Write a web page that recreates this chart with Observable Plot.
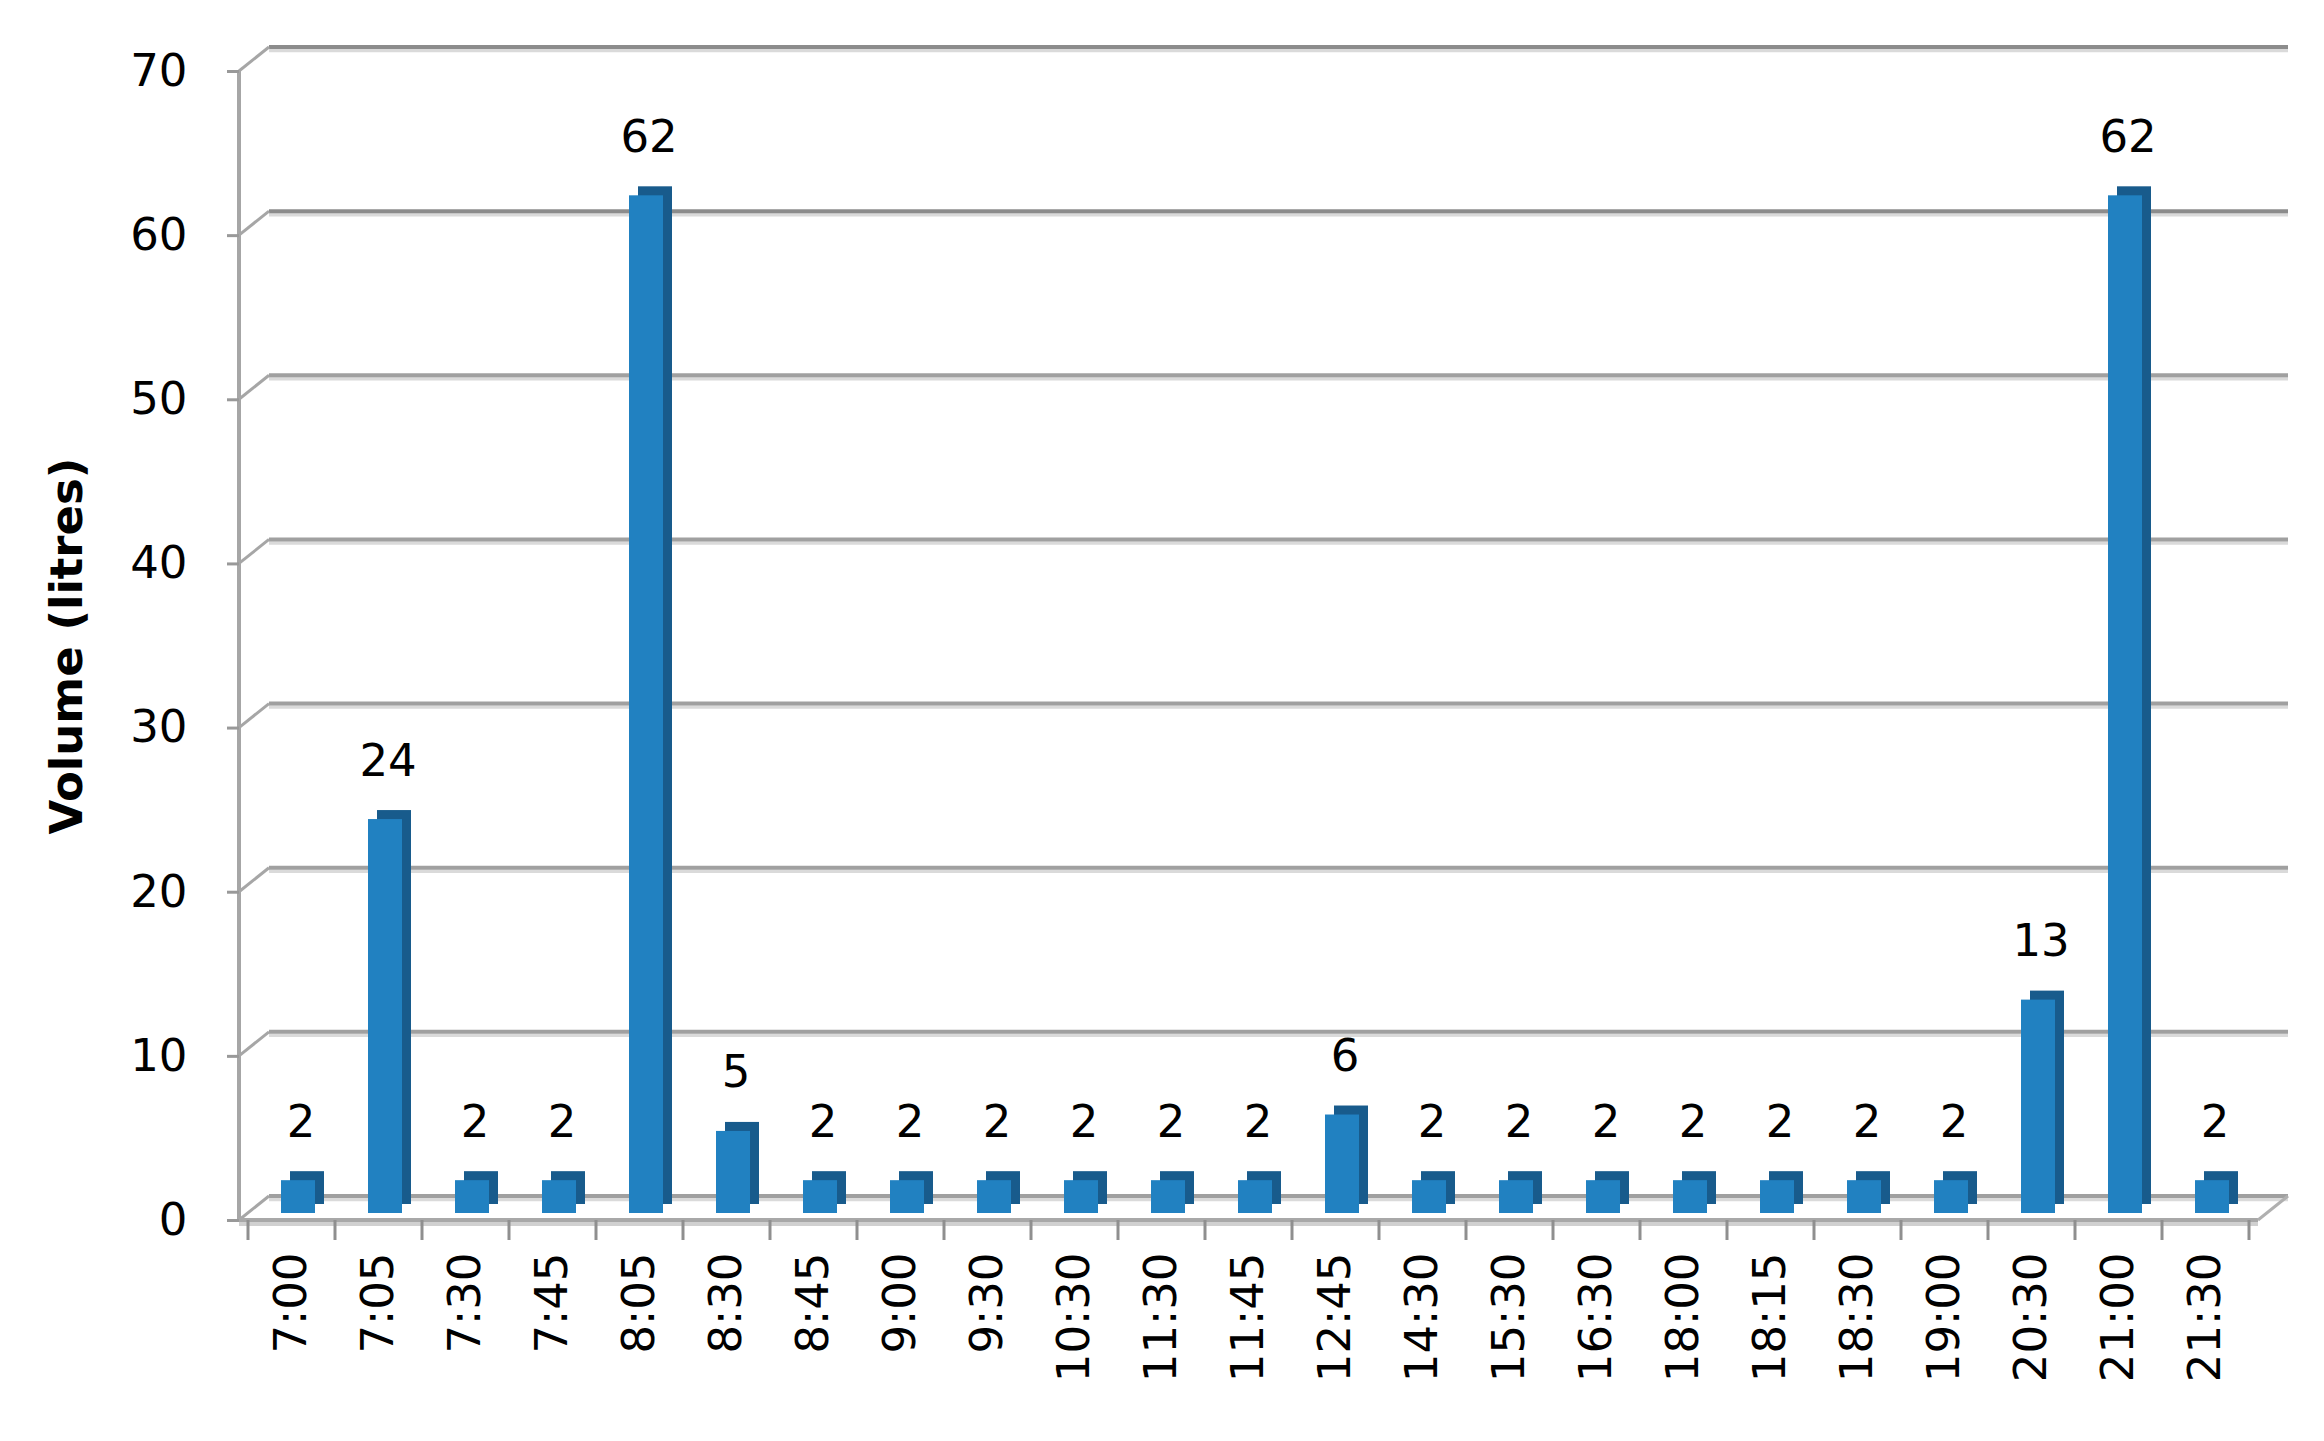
<!DOCTYPE html>
<html>
<head>
<meta charset="utf-8">
<script src="https://cdn.jsdelivr.net/npm/d3@7"></script>
<script src="https://cdn.jsdelivr.net/npm/@observablehq/plot@0.6"></script>
<style>
  html, body { margin: 0; padding: 0; background: #ffffff; overflow: hidden; }
  #chart svg { display: block; }
</style>
</head>
<body>
<div id="chart"></div>
<script>
const times = ["7:00","7:05","7:30","7:45","8:05","8:30","8:45","9:00","9:30","10:30","11:30","11:45","12:45","14:30","15:30","16:30","18:00","18:15","18:30","19:00","20:30","21:00","21:30"];
const volumes = [2,24,2,2,62,5,2,2,2,2,2,2,6,2,2,2,2,2,2,2,13,62,2];
const yTicks = [0,10,20,30,40,50,60,70];
const yTitle = "Volume (litres)";

const data = times.map((t, i) => ({time: t, value: volumes[i]}));

const DEPTH_X = 30, DEPTH_Y = -24;

// 3D wall / floor decorations drawn from the plot's own scales
function decor(index, scales, values, dims) {
  const x = scales.x, y = scales.y;
  const g = d3.create("svg:g");
  const x0 = dims.marginLeft, x1 = dims.width - dims.marginRight;
  const n = times.length;
  const step = (typeof x.step === "function") ? x.step() : (x1 - x0) / n;
  const start = x(times[0]);
  for (const v of yTicks) {
    const yy = y(v);
    const dark = v === 70 || v === 60 ? "#8c8c8c" : "#a0a0a0";
    g.append("line").attr("x1", x0 + DEPTH_X).attr("x2", x1 + DEPTH_X)
      .attr("y1", yy + DEPTH_Y + 3.5).attr("y2", yy + DEPTH_Y + 3.5)
      .attr("stroke", "#dadada").attr("stroke-width", 3.5);
    g.append("line").attr("x1", x0 + DEPTH_X).attr("x2", x1 + DEPTH_X)
      .attr("y1", yy + DEPTH_Y).attr("y2", yy + DEPTH_Y)
      .attr("stroke", dark).attr("stroke-width", 4);
    g.append("line").attr("x1", x0).attr("x2", x0 + DEPTH_X)
      .attr("y1", yy).attr("y2", yy + DEPTH_Y)
      .attr("stroke", "#a6a6a6").attr("stroke-width", 3);
  }
  g.append("line").attr("x1", x0).attr("x2", x0)
    .attr("y1", y(70)).attr("y2", y(0))
    .attr("stroke", "#a6a6a6").attr("stroke-width", 4);
  const y0 = y(0);
  g.append("line").attr("x1", x0).attr("x2", x1)
    .attr("y1", y0 + 4).attr("y2", y0 + 4)
    .attr("stroke", "#d0d0d0").attr("stroke-width", 4);
  g.append("line").attr("x1", x0).attr("x2", x1)
    .attr("y1", y0).attr("y2", y0)
    .attr("stroke", "#a8a8a8").attr("stroke-width", 4);
  g.append("line").attr("x1", x1).attr("x2", x1 + DEPTH_X)
    .attr("y1", y0).attr("y2", y0 + DEPTH_Y)
    .attr("stroke", "#b0b0b0").attr("stroke-width", 3);
  for (let i = 0; i <= n; i++) {
    const xx = start + i * step;
    g.append("line").attr("x1", xx).attr("x2", xx)
      .attr("y1", y0).attr("y2", y0 + 20)
      .attr("stroke", "#8f8f8f").attr("stroke-width", 3);
  }
  return g.node();
}

const chart = Plot.plot({
  width: 2324,
  height: 1441,
  marginLeft: 239,
  marginRight: 66,
  marginTop: 71,
  marginBottom: 221,
  style: {fontFamily: "DejaVu Sans", background: "#ffffff", color: "#000000"},
  x: {domain: times, padding: 0, label: null},
  y: {domain: [0, 70], label: null},
  marks: [
    decor,
    Plot.barY(data, {x: "time", y: "value", fill: "#185b8c", insetLeft: 33, insetRight: 20, dx: 9, dy: -16}),
    Plot.barY(data, {x: "time", y: "value", fill: "#2181c1", insetLeft: 33, insetRight: 20, dy: -7}),
    Plot.text(data, {x: "time", y: "value", text: d => String(d.value), dx: 9, dy: -51, lineAnchor: "bottom", fontSize: 45, fill: "#000000"}),
    Plot.axisY({ticks: yTicks, tickSize: 12, tickPadding: 40, fontSize: 45, stroke: "#999999", strokeWidth: 3, label: null}),
    Plot.axisX({tickSize: 0, tickRotate: -90, tickPadding: 32, fontSize: 45, label: null}),
    Plot.text([yTitle], {frameAnchor: "left", textAnchor: "middle", dx: -172, rotate: -90, fontSize: 45, fontWeight: "bold", fill: "#000000"})
  ]
});
document.getElementById("chart").append(chart);
</script>
</body>
</html>
